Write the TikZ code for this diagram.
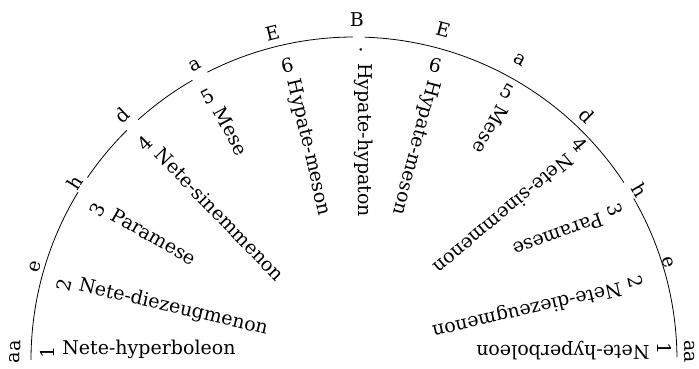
\documentclass[tikz,border=0pt]{standalone}
\usepackage{fontspec}
\setmainfont{DejaVu Serif}
\usepackage{tikz}

\begin{document}
\begin{tikzpicture}[x=1pt,y=1pt,
              lab/.style={inner sep=0pt,anchor=mid west,font=\fontsize{19}{22}\selectfont},
              num/.style={inner sep=0pt,font=\fontsize{19}{22}\selectfont},
              note/.style={inner sep=0pt,font=\fontsize{19}{22}\selectfont}]
  \useasboundingbox (0,0) rectangle (699,369);
  \coordinate (c) at (354,9);
  % the arc, broken where some of the notes sit
  \draw[line width=0.8pt] ([shift={(180:323)}]c) arc[start angle=180,end angle=148.7,radius=323];
  \draw[line width=0.8pt] ([shift={(145.6:323)}]c) arc[start angle=145.6,end angle=134.7,radius=323];
  \draw[line width=0.8pt] ([shift={(131.9:323)}]c) arc[start angle=131.9,end angle=120,radius=323];
  \draw[line width=0.8pt] ([shift={(117:323)}]c) arc[start angle=117,end angle=90.2,radius=323];
  \draw[line width=0.8pt] ([shift={(88.1:323)}]c) arc[start angle=88.1,end angle=33.3,radius=323];
  \draw[line width=0.8pt] ([shift={(30:323)}]c) arc[start angle=30,end angle=0.5,radius=323];
  % notes on the arc
  \node[note,rotate=88.6] (aaL) at ([shift={(178.6:339)}]c) {aa};
  \node[note,rotate=73.7] (eL) at ([shift={(163.7:332)}]c) {e};
  \node[note,rotate=57.5] (hL) at ([shift={(147.5:331)}]c) {h};
  \node[note,rotate=43.4] (dL) at ([shift={(133.4:337)}]c) {d};
  \node[note,rotate=28.3] (aL) at ([shift={(118.3:335)}]c) {a};
  \node[note,rotate=14] (EL) at ([shift={(104:337)}]c) {E};
  \node[note] (B) at ([shift={(89.5:340)}]c) {B};
  \node[note,rotate=-15.1] (ER) at ([shift={(74.9:342)}]c) {E};
  \node[note,rotate=-29] (aR) at ([shift={(61:343)}]c) {a};
  \node[note,rotate=-43.6] (dR) at ([shift={(46.4:338)}]c) {d};
  \node[note,rotate=-59.3] (hR) at ([shift={(30.7:333)}]c) {h};
  \node[note,rotate=-72.8] (eR) at ([shift={(17.2:329)}]c) {e};
  \node[note,rotate=-88.6] (aaR) at ([shift={(1.4:336)}]c) {aa};
  % left half
  \node[num,rotate=90] (nl1) at ([shift={(178.5:307)}]c) {1};
  \node[lab,rotate=0] (tl1) at ([shift={(0:15)}]nl1) {Nete-hyperboleon};
  \node[num,rotate=77] (nl2) at ([shift={(165.5:300)}]c) {2};
  \node[lab,rotate=-13] (tl2) at ([shift={(-13:15)}]nl2) {Nete-diezeugmenon};
  \node[num,rotate=60.5] (nl3) at ([shift={(149.6:297)}]c) {3};
  \node[lab,rotate=-29.5] (tl3) at ([shift={(-29.5:15)}]nl3) {Paramese};
  \node[num,rotate=44] (nl4) at ([shift={(133.9:301)}]c) {4};
  \node[lab,rotate=-46] (tl4) at ([shift={(-46:15)}]nl4) {Nete-sinemmenon};
  \node[num,rotate=28] (nl5) at ([shift={(119:301)}]c) {5};
  \node[lab,rotate=-62] (tl5) at ([shift={(-62:15)}]nl5) {Mese};
  \node[num,rotate=13] (nl6) at ([shift={(102.8:302)}]c) {6};
  \node[lab,rotate=-77] (tl6) at ([shift={(-77:15)}]nl6) {Hypate-meson};
  \node[num] (n7) at ([shift={(88.7:308)}]c) {·};
  \node[lab,rotate=-90] (t7) at ([shift={(-90:11)}]n7) {Hypate-hypaton};
  % right half
  \node[num,rotate=-15] (nr6) at ([shift={(74.6:306)}]c) {6};
  \node[lab,rotate=-105] (tr6) at ([shift={(-105:15)}]nr6) {Hypate-meson};
  \node[num,rotate=-29] (nr5) at ([shift={(60.3:309)}]c) {5};
  \node[lab,rotate=-119] (tr5) at ([shift={(-119:15)}]nr5) {Mese};
  \node[num,rotate=-50] (nr4) at ([shift={(43.6:312)}]c) {4};
  \node[lab,rotate=-140] (tr4) at ([shift={(-140:15)}]nr4) {Nete-sinemmenon};
  \node[num,rotate=-70] (nr3) at ([shift={(29.9:301)}]c) {3};
  \node[lab,rotate=-160] (tr3) at ([shift={(-160:15)}]nr3) {Paramese};
  \node[num,rotate=-77] (nr2) at ([shift={(15.5:292)}]c) {2};
  \node[lab,rotate=-167] (tr2) at ([shift={(-167:15)}]nr2) {Nete-diezeugmenon};
  \node[num,rotate=270] (nr1) at ([shift={(2.2:311)}]c) {1};
  \node[lab,rotate=180] (tr1) at ([shift={(180:15)}]nr1) {Nete-hyperboleon};
\end{tikzpicture}
\end{document}
